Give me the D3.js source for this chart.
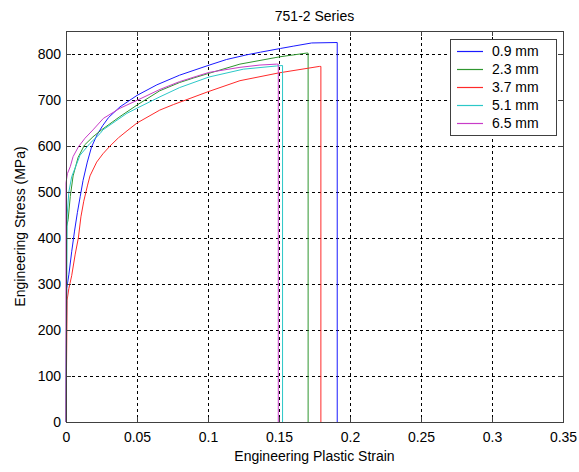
<!DOCTYPE html>
<meta charset="utf-8">
<style>
  body { margin: 0; background: #fff; }
  text { font-family: Arial, "Liberation Sans", sans-serif; font-size: 14px; fill: #000; }
</style>

<!-- Load d3.js -->
<script src="https://d3js.org/d3.v7.min.js"></script>

<div id="chart"></div>

<script>
    // series names and colours (matlab default order)
    var seriesNames = ["0.9 mm", "2.3 mm", "3.7 mm", "5.1 mm", "6.5 mm"];
    var seriesColors = ["#1a1aff", "#2f962f", "#ff2a2a", "#2cc8c8", "#c83cc8"];

    // engineering plastic strain / stress (MPa)
    var strain09 = [0, 0.0005, 0.002, 0.004, 0.006, 0.008, 0.010, 0.012, 0.015, 0.018, 0.022, 0.026, 0.030, 0.038, 0.050, 0.064, 0.080, 0.100, 0.113, 0.127, 0.137, 0.151, 0.160, 0.173, 0.191, 0.191];
    var stress09 = [0, 290, 320, 370, 415, 455, 490, 525, 565, 598, 625, 645, 662, 685, 710, 733, 754, 775, 788, 798, 804, 812, 817, 824, 825, 0];

    var strain23 = [0, 0.0005, 0.0015, 0.003, 0.005, 0.0085, 0.013, 0.019, 0.025, 0.038, 0.0505, 0.066, 0.080, 0.090, 0.1007, 0.1225, 0.1507, 0.1695, 0.1705, 0.1705];
    var stress23 = [0, 425, 440, 490, 535, 575, 602, 620, 635, 664, 690, 720, 738, 748, 758, 778, 794, 802, 802, 0];

    var strain37 = [0, 0.0008, 0.002, 0.004, 0.0065, 0.0087, 0.0105, 0.0125, 0.0152, 0.0169, 0.0216, 0.026, 0.031, 0.037, 0.043, 0.050, 0.066, 0.0756, 0.100, 0.1225, 0.150, 0.1784, 0.1795, 0.1795];
    var stress37 = [0, 265, 290, 318, 365, 400, 446, 480, 515, 535, 565, 583, 600, 618, 633, 650, 678, 690, 718, 742, 759, 773, 773, 0];

    var strain51 = [0, 0.0008, 0.002, 0.004, 0.0099, 0.017, 0.024, 0.026, 0.0429, 0.0505, 0.0662, 0.080, 0.1007, 0.1249, 0.1484, 0.1525, 0.1525];
    var stress51 = [0, 450, 500, 533, 580, 606, 627, 635, 671, 683, 707, 727, 750, 767, 774, 775, 0];

    var strain65 = [0, 0, 0.001, 0.003, 0.005, 0.0087, 0.0134, 0.019, 0.0263, 0.038, 0.0505, 0.0662, 0.080, 0.1007, 0.1225, 0.1366, 0.1483, 0.1495, 0.1495];
    var stress65 = [0, 520, 540, 555, 577, 598, 617, 635, 660, 682, 700, 723, 740, 760, 771, 776, 778, 778, 0];

    var strains = [strain09, strain23, strain37, strain51, strain65];
    var stresses = [stress09, stress23, stress37, stress51, stress65];

    // ticks
    var xTicks = [0, 0.05, 0.1, 0.15, 0.2, 0.25, 0.3, 0.35];
    var xTickLabels = ["0", "0.05", "0.1", "0.15", "0.2", "0.25", "0.3", "0.35"];
    var yTicks = [0, 100, 200, 300, 400, 500, 600, 700, 800];
    var yTickLabels = ["0", "100", "200", "300", "400", "500", "600", "700", "800"];

    // plot box
    var margin = {top: 31, right: 16, bottom: 50, left: 66},
        W = 579, H = 472,
        width = W - margin.left - margin.right,
        height = H - margin.top - margin.bottom;

    var svg = d3.select("#chart")
      .append("svg")
        .attr("width", W)
        .attr("height", H);

    var g = svg.append("g")
        .attr("transform", "translate(" + margin.left + "," + margin.top + ")");

    var x = d3.scaleLinear().domain([0, 0.35]).range([0, width]);
    var y = d3.scaleLinear().domain([0, 850]).range([height, 0]);

    // grid
    g.selectAll(".vgrid")
      .data(xTicks.slice(1, -1))
      .enter().append("line")
        .attr("x1", function(d) { return x(d) + 0.5; })
        .attr("x2", function(d) { return x(d) + 0.5; })
        .attr("y1", 0).attr("y2", height)
        .attr("stroke", "#000").attr("stroke-dasharray", "3,3");
    g.selectAll(".hgrid")
      .data(yTicks.slice(1))
      .enter().append("line")
        .attr("y1", function(d) { return Math.round(y(d)) + 0.5; })
        .attr("y2", function(d) { return Math.round(y(d)) + 0.5; })
        .attr("x1", 0).attr("x2", width)
        .attr("stroke", "#000").attr("stroke-dasharray", "3,3");

    // curves
    var line = d3.line()
        .x(function(d) { return x(d[0]); })
        .y(function(d) { return y(d[1]); });

    seriesNames.forEach(function(name, i) {
      var pts = strains[i].map(function(s, k) { return [s, stresses[i][k]]; });
      g.append("path")
        .datum(pts)
        .attr("fill", "none")
        .attr("stroke", seriesColors[i])
        .attr("stroke-width", 1)
        .attr("d", line);
    });

    // axes, ticks inside on all four sides
    function fmt(list, labels) {
      return function(d) { return labels[list.indexOf(d)]; };
    }
    var xAxis = g.append("g")
        .attr("transform", "translate(0," + height + ")")
        .call(d3.axisBottom(x).tickValues(xTicks).tickFormat(fmt(xTicks, xTickLabels))
          .tickSizeInner(-5).tickSizeOuter(0).tickPadding(10));
    g.append("g")
        .call(d3.axisTop(x).tickValues(xTicks).tickFormat("")
          .tickSizeInner(-5).tickSizeOuter(0));
    var yAxis = g.append("g")
        .call(d3.axisLeft(y).tickValues(yTicks).tickFormat(fmt(yTicks, yTickLabels))
          .tickSizeInner(-5).tickSizeOuter(0).tickPadding(5));
    g.append("g")
        .attr("transform", "translate(" + width + ",0)")
        .call(d3.axisRight(y).tickValues(yTicks).tickFormat("")
          .tickSizeInner(-5).tickSizeOuter(0));

    g.selectAll(".domain, .tick line").attr("stroke", "#404040");
    g.selectAll(".tick text").style("font-size", "14px").attr("fill", "#000")
      .style("font-family", "Arial, 'Liberation Sans', sans-serif");

    // box
    g.append("rect")
        .attr("x", 0.5).attr("y", 0.5)
        .attr("width", width).attr("height", height)
        .attr("fill", "none").attr("stroke", "#404040");

    // title and labels
    svg.append("text")
        .attr("x", margin.left + width / 2).attr("y", 21)
        .attr("text-anchor", "middle")
        .text("751-2 Series");
    svg.append("text")
        .attr("x", margin.left + width / 2).attr("y", 461)
        .attr("text-anchor", "middle")
        .text("Engineering Plastic Strain");
    svg.append("text")
        .attr("transform", "translate(25," + (margin.top + height / 2) + ") rotate(-90)")
        .attr("text-anchor", "middle")
        .text("Engineering Stress (MPa)");

    // legend
    var leg = svg.append("g").attr("transform", "translate(450,39)");
    leg.append("rect")
        .attr("x", 0.5).attr("y", 0.5)
        .attr("width", 106).attr("height", 96)
        .attr("fill", "#fff").attr("stroke", "#404040");
    seriesNames.forEach(function(name, i) {
      var yy = 12 + i * 18;
      leg.append("path")
        .attr("d", "M7," + (yy + 0.5) + "H33")
        .attr("fill", "none")
        .attr("stroke", seriesColors[i])
        .attr("stroke-width", 1.2);
      leg.append("text")
        .attr("x", 42).attr("y", yy + 5)
        .text(name);
    });
</script>
